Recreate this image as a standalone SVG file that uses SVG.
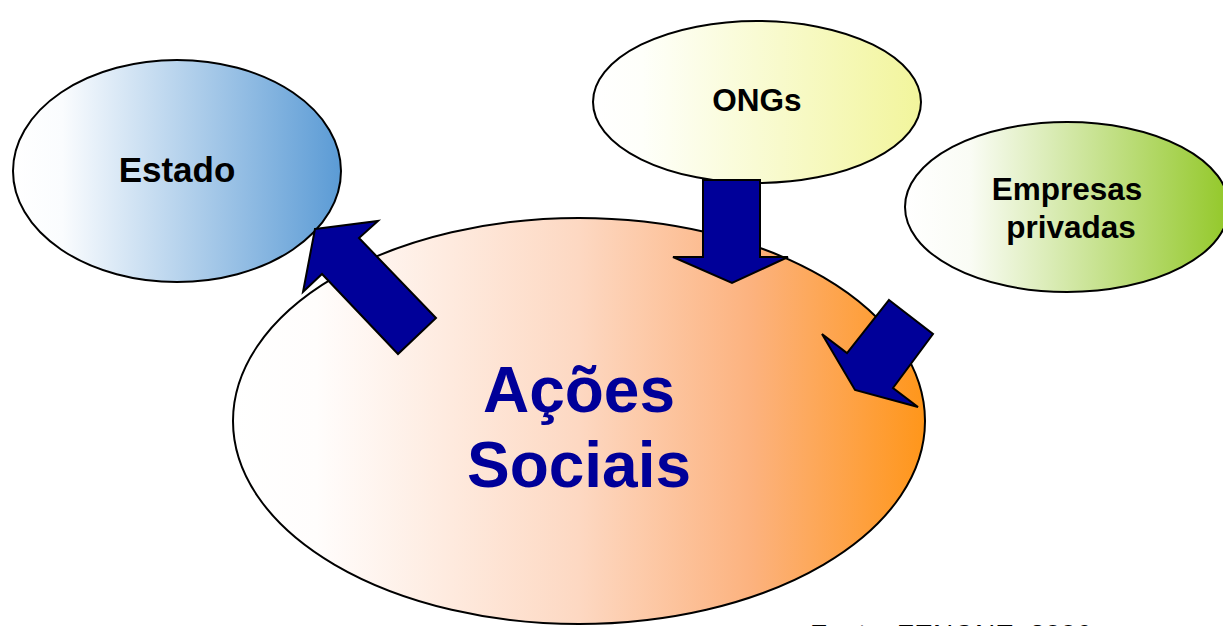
<svg xmlns="http://www.w3.org/2000/svg" width="1223" height="626" viewBox="0 0 1223 626">
<style>
.node{stroke:#000;stroke-width:2}
.lbl{font-family:"Liberation Sans",Arial,sans-serif;font-weight:bold;fill:#000;text-anchor:middle}
.big{font-family:"Liberation Sans",Arial,sans-serif;font-weight:bold;fill:#000099;text-anchor:middle;font-size:64px}
.arrow{fill:#000099;stroke:#000;stroke-width:2;stroke-linejoin:miter}
</style>
<defs>
<linearGradient id="gBlue" x1="0" y1="0" x2="1" y2="0">
<stop offset="0" stop-color="#ffffff"/>
<stop offset="0.15" stop-color="#fafcfe"/>
<stop offset="1" stop-color="#5b9bd5"/>
</linearGradient>
<linearGradient id="gYellow" x1="0" y1="0" x2="1" y2="0">
<stop offset="0" stop-color="#ffffff"/>
<stop offset="0.15" stop-color="#fefffa"/>
<stop offset="1" stop-color="#f2f59c"/>
</linearGradient>
<linearGradient id="gGreen" x1="0" y1="0" x2="1" y2="0">
<stop offset="0" stop-color="#ffffff"/>
<stop offset="0.2" stop-color="#fafcf5"/>
<stop offset="1" stop-color="#93c829"/>
</linearGradient>
<linearGradient id="gOrange" x1="0" y1="0" x2="1" y2="0">
<stop offset="0" stop-color="#ffffff"/>
<stop offset="0.12" stop-color="#fffdfc"/>
<stop offset="0.5" stop-color="#fdd8c2"/>
<stop offset="0.75" stop-color="#fcb27e"/>
<stop offset="1" stop-color="#ff961a"/>
</linearGradient>
</defs>
<rect width="1223" height="626" fill="#ffffff"/>
<g id="acoes">
<ellipse class="node" cx="579" cy="421" rx="346" ry="203" fill="url(#gOrange)"/>
<text class="big" x="579" y="412">Ações</text>
<text class="big" x="579" y="487">Sociais</text>
</g>
<g id="estado">
<ellipse class="node" cx="177" cy="171" rx="164" ry="111" fill="url(#gBlue)"/>
<text class="lbl" x="177" y="182" font-size="35">Estado</text>
</g>
<g id="ongs">
<ellipse class="node" cx="757" cy="102" rx="164" ry="81" fill="url(#gYellow)"/>
<text class="lbl" x="757" y="111" font-size="31.5">ONGs</text>
</g>
<g id="empresas">
<ellipse class="node" cx="1067" cy="207" rx="162" ry="85" fill="url(#gGreen)"/>
<text class="lbl" x="1067" y="200" font-size="31.5">Empresas</text>
<text class="lbl" x="1071" y="238" font-size="31.5">privadas</text>
</g>
<g id="connectors">
<polygon class="arrow" points="315,229 378,221 359,238 436,318 398,354 322,274 303,292"/>
<polygon class="arrow" points="703,180 760,180 760,257 788,257 732,283 673,257 703,257"/>
<polygon class="arrow" points="889,300 933,334 893,388 918,407 855,390 822,334 847,353"/>
</g>
<text x="810" y="644" font-family="'Liberation Sans',Arial,sans-serif" font-size="28" fill="#000">Fonte: ZENONE, 2006</text>
</svg>
